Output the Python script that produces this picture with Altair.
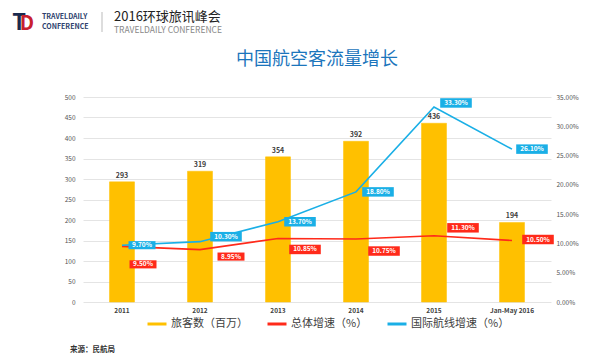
import altair as alt
import pandas as pd

# ---- data ----
categories = ["2011", "2012", "2013", "2014", "2015", "Jan-May 2016"]
passengers = [293, 319, 354, 392, 436, 194]          # 旅客数（百万）
total_growth = [9.50, 8.95, 10.85, 10.75, 11.30, 10.50]   # 总体增速（%）
intl_growth = [9.70, 10.30, 13.70, 18.80, 33.30, 26.10]   # 国际航线增速（%）
series_names = ["旅客数（百万）", "总体增速（%）", "国际航线增速（%）"]
left_ticks = [0, 50, 100, 150, 200, 250, 300, 350, 400, 450, 500]
right_ticks = [0, 5, 10, 15, 20, 25, 30, 35]

# label placement (pixel nudges of the value boxes relative to their points)
total_dx = [21, 31, 27, 28, 29, 26]
total_dy = [18, 7, 11, 12, -8, -1]
intl_dx = [20, 26, 22, 22, 22, 20]
intl_dy = [0, -5, 0, 0, -4, 0]

series_colors = ["#FFC000", "#FF2A1A", "#1AAFE6"]
FONT = "Noto Sans CJK SC"

df_bar = pd.DataFrame({"cat": categories, "value": passengers, "series": series_names[0]})
df_line = pd.concat([
    pd.DataFrame({"cat": categories, "value": total_growth, "series": series_names[1],
                  "dx": total_dx, "dy": total_dy}),
    pd.DataFrame({"cat": categories, "value": intl_growth, "series": series_names[2],
                  "dx": intl_dx, "dy": intl_dy}),
], ignore_index=True)
df_line["label"] = df_line["value"].map(lambda v: f"{v:.2f}%")

x_enc = alt.X("cat:N", sort=categories,
              scale=alt.Scale(paddingInner=0, paddingOuter=0),
              axis=alt.Axis(title=None, labelAngle=0, domain=False, ticks=False,
                            labelPadding=5, labelFontSize=6.5, labelColor="#404040",
                            labelFont=FONT, labelFontWeight="bold", grid=False))

y_left = alt.Y("value:Q", scale=alt.Scale(domain=[0, 500]),
               axis=alt.Axis(title=None, values=left_ticks, domain=False, ticks=False,
                             grid=True, gridColor="#E4E4E4", gridWidth=1,
                             labelPadding=8, labelFontSize=6.5, labelColor="#555555",
                             labelFont=FONT))
y_right = alt.Y("value:Q", scale=alt.Scale(domain=[0, 35]),
                axis=alt.Axis(title=None, orient="right", values=right_ticks, domain=False,
                              ticks=False, grid=False, labelPadding=5, labelFontSize=6.5,
                              labelColor="#555555", labelFont=FONT,
                              labelExpr="format(datum.value, '.2f') + '%'"))

color_scale = alt.Scale(domain=series_names, range=series_colors)
legend = alt.Legend(title=None, orient="none", legendX=63, legendY=216,
                    direction="horizontal", symbolType="stroke", symbolSize=361,
                    symbolStrokeWidth=3,
                    labelFontSize=11, labelFont=FONT,
                    labelColor="#404040", columnPadding=13, labelOffset=3)

fill_enc = alt.Fill("series:N", scale=color_scale, legend=legend)
stroke_enc = alt.Stroke("series:N", scale=color_scale, legend=legend)

bars = alt.Chart(df_bar).mark_bar(size=25, strokeWidth=0.5).encode(
    x=x_enc, y=y_left, fill=fill_enc, stroke=stroke_enc,
)
bar_text = alt.Chart(df_bar).mark_text(baseline="bottom", dy=-3, fontSize=7,
                                       fontWeight="bold", color="#404040", font=FONT).encode(
    x=x_enc, y=y_left, text="value:Q")

lines = alt.Chart(df_line).mark_line(interpolate="linear", strokeWidth=1.6).encode(
    x=x_enc, y=y_right, stroke=stroke_enc,
)
boxes = alt.Chart(df_line).transform_calculate(
    bw="pow(length(datum.label) * 4.6 + 4, 2)"
).mark_point(shape="M-1,-0.3L1,-0.3L1,0.3L-1,0.3Z", filled=True, opacity=1,
             strokeWidth=0, xOffset={"expr": "datum.dx"}, yOffset={"expr": "datum.dy"}).encode(
    x=x_enc, y=y_right, fill=fill_enc,
    size=alt.Size("bw:Q", scale=None),
)
box_text = alt.Chart(df_line).mark_text(fontSize=6.5, color="white", font=FONT,
                                        fontWeight="bold",
                                        dx={"expr": "datum.dx"}, dy={"expr": "datum.dy"}).encode(
    x=x_enc, y=y_right, text="label:N")

left = alt.layer(bars, bar_text)
right = alt.layer(lines, boxes, box_text)


def txt(s, x, y, **kw):
    return alt.Chart(pd.DataFrame({"t": [s]})).mark_text(font=FONT, **kw).encode(
        text="t:N", x=alt.value(x), y=alt.value(y))


logo_t = txt("T", -64, -74, fontSize=22, fontWeight="bold", color="#1B2A4E")
logo_d = txt("D", -56, -73, fontSize=20, fontWeight="bold", color="#C8202F")
brand1 = txt("TRAVELDAILY", -41, -80, fontSize=7, color="#2E3F6E", align="left", fontWeight="bold")
brand2 = txt("CONFERENCE", -41, -70, fontSize=7, color="#2E3F6E", align="left", fontWeight="bold")
sep = alt.Chart(pd.DataFrame({"a": [0]})).mark_rule(color="#BBBBBB", strokeWidth=1).encode(
    x=alt.value(19), y=alt.value(-85), y2=alt.value(-65))
head1 = txt("2016环球旅讯峰会", 31, -80, fontSize=13, color="#222222", align="left")
head2 = txt("TRAVELDAILY CONFERENCE", 31, -67, fontSize=8.5, color="#888888", align="left")
title = txt("中国航空客流量增长", 234, -37, fontSize=18, color="#1B75BC")
source = txt("来源：民航局", -13, 253, fontSize=7.5, color="#333333", align="left", fontWeight="bold")

chart = alt.layer(left, right, logo_t, logo_d, brand1, brand2, sep, head1, head2, title, source
                  ).resolve_scale(y="independent").properties(
    width=468, height=205,
    autosize=alt.AutoSizeParams(type="none"),
    padding={"left": 75, "top": 89, "right": 37, "bottom": 51},
).configure_view(stroke=None)

chart.save("out.html", embed_options={"renderer": "svg", "actions": False})
